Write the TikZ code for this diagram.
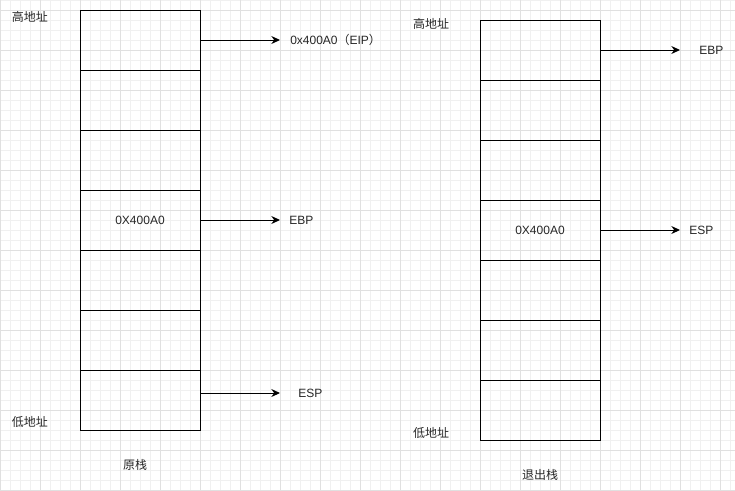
\documentclass[tikz,border=0pt]{standalone}
\usepackage{fontspec}
\setmainfont{Liberation Sans}
\newfontfamily\cjk{Noto Sans CJK SC}
\usetikzlibrary{arrows.meta}

\tikzset{
  cell/.style={draw, line width=0.75pt, minimum width=90pt, minimum height=45pt, inner sep=0pt},
  ptr/.style={line width=0.75pt, -{Stealth[length=6.5pt,width=6pt]}},
  lbl/.style={inner sep=0pt, font=\fontsize{9}{11}\selectfont, text=black!85},
  zh/.style={lbl, font=\fontsize{9}{11}\selectfont\cjk}
}

\begin{document}
\begin{tikzpicture}[x=0.75pt, y=-0.75pt]
    \useasboundingbox (0,0) rectangle (735,490);

    % grid
    \foreach \x in {0,10,...,730} \draw [black!6, line width=0.5pt] (\x,0) -- (\x,490);
    \foreach \y in {0,10,...,490} \draw [black!6, line width=0.5pt] (0,\y) -- (735,\y);
    \foreach \x in {0,40,...,720} \draw [black!12, line width=0.5pt] (\x,0) -- (\x,490);
    \foreach \y in {10,50,...,490} \draw [black!12, line width=0.5pt] (0,\y) -- (735,\y);

    % original stack
    \foreach \i in {0,...,6} \node [cell] (l\i) at (140,40+60*\i) {};
    \node [lbl] (lval) at (l3) {0X400A0};
    \node [zh] (lhigh) at (30,17) {高地址};
    \node [zh] (llow) at (30,422) {低地址};
    \node [zh] (lname) at (135,465) {原栈};

    \coordinate (ltipA) at (280,40);
    \coordinate (ltipB) at (280,220);
    \coordinate (ltipC) at (280,393);
    \node [lbl, anchor=west] (leip) at (290,40) {0x400A0{\cjk （}EIP{\cjk ）}};
    \node [lbl, anchor=west] (lebp) at (289,220) {EBP};
    \node [lbl, anchor=west] (lesp) at (298,393) {ESP};
    \draw [ptr] (l0.east |- ltipA) -- (ltipA);
    \draw [ptr] (l3.east |- ltipB) -- (ltipB);
    \draw [ptr] (l6.east |- ltipC) -- (ltipC);

    % stack after exit
    \foreach \i in {0,...,6} \node [cell] (r\i) at (540,50+60*\i) {};
    \node [lbl] (rval) at (r3) {0X400A0};
    \node [zh] (rhigh) at (431,24) {高地址};
    \node [zh] (rlow) at (431,433) {低地址};
    \node [zh] (rname) at (540,475) {退出栈};

    \coordinate (rtipA) at (680,50);
    \coordinate (rtipB) at (680,230);
    \node [lbl, anchor=west] (rebp) at (699,50) {EBP};
    \node [lbl, anchor=west] (resp) at (689,230) {ESP};
    \draw [ptr] (r0.east |- rtipA) -- (rtipA);
    \draw [ptr] (r3.east |- rtipB) -- (rtipB);
  \end{tikzpicture}
\end{document}
